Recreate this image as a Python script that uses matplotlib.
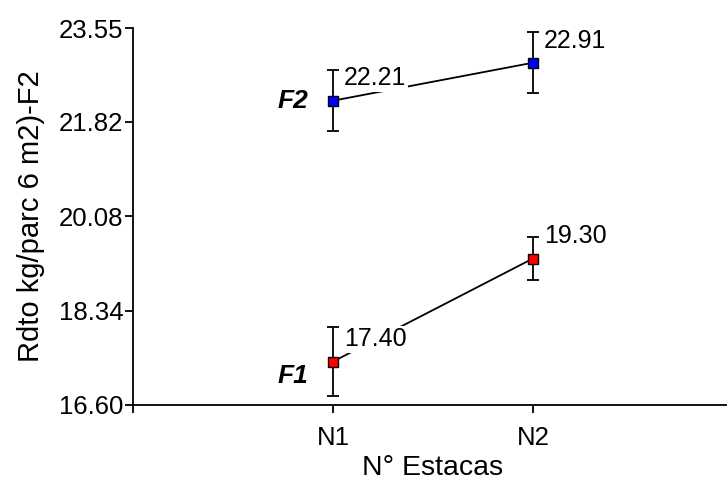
import matplotlib.pyplot as plt
import numpy as np

plt.rcParams['font.family'] = ['Liberation Sans', 'DejaVu Sans']

categories = ['N1', 'N2']
f1_vals = [17.40, 19.30]
f1_err = [0.64, 0.39]
f2_vals = [22.21, 22.91]
f2_err = [0.56, 0.56]
y_ticks = [16.60, 18.34, 20.08, 21.82, 23.55]

x = np.arange(1, len(categories) + 1)

fig = plt.figure(figsize=(7.27, 4.83), dpi=100)
ax = fig.add_axes([0.183, 0.1615, 0.825, 0.7805])

for vals, err, col, name, dy in [(f2_vals, f2_err, '#0000ff', 'F2', 0.0),
                                 (f1_vals, f1_err, '#ff0000', 'F1', -0.27)]:
    ax.plot(x, vals, color='black', lw=1.3, zorder=1)
    ax.errorbar(x, vals, yerr=err, fmt='none', ecolor='black', elinewidth=1.3,
                capsize=4.5, capthick=1.3, zorder=2)
    ax.plot(x, vals, 's', ms=7.5, mfc=col, mec='black', mew=1.0, zorder=4)
    for xi, v in zip(x, vals):
        ax.annotate('%.2f' % v, (xi, v), xytext=(8, 16), textcoords='offset points',
                    fontsize=18, va='center', ha='left', zorder=3,
                    bbox=dict(facecolor='white', edgecolor='none', pad=1))
    ax.annotate(name, (x[0], vals[0] + dy), xytext=(-18, 0), textcoords='offset points',
                fontsize=19, fontweight='bold', fontstyle='italic',
                ha='right', va='center')

ax.set_xlim(0, 3)
ax.set_ylim(16.60, 23.55)
ax.set_xticks([0, 1, 2, 3])
ax.set_xticklabels(['', 'N1', 'N2', ''])
ax.set_yticks(y_ticks)
ax.set_yticklabels(['%.2f' % t for t in y_ticks])
ax.tick_params(axis='both', labelsize=18.5, width=1.3, length=6, color='black')
ax.tick_params(axis='x', pad=9)
ax.tick_params(axis='y', pad=1)

for s in ['top', 'right']:
    ax.spines[s].set_visible(False)
for s in ['left', 'bottom']:
    ax.spines[s].set_linewidth(1.3)

ax.set_xlabel('N° Estacas', fontsize=20.5, labelpad=4)
ax.set_ylabel('Rdto kg/parc 6 m2)-F2', fontsize=21, labelpad=10)

fig.savefig('out.png', dpi=100)
